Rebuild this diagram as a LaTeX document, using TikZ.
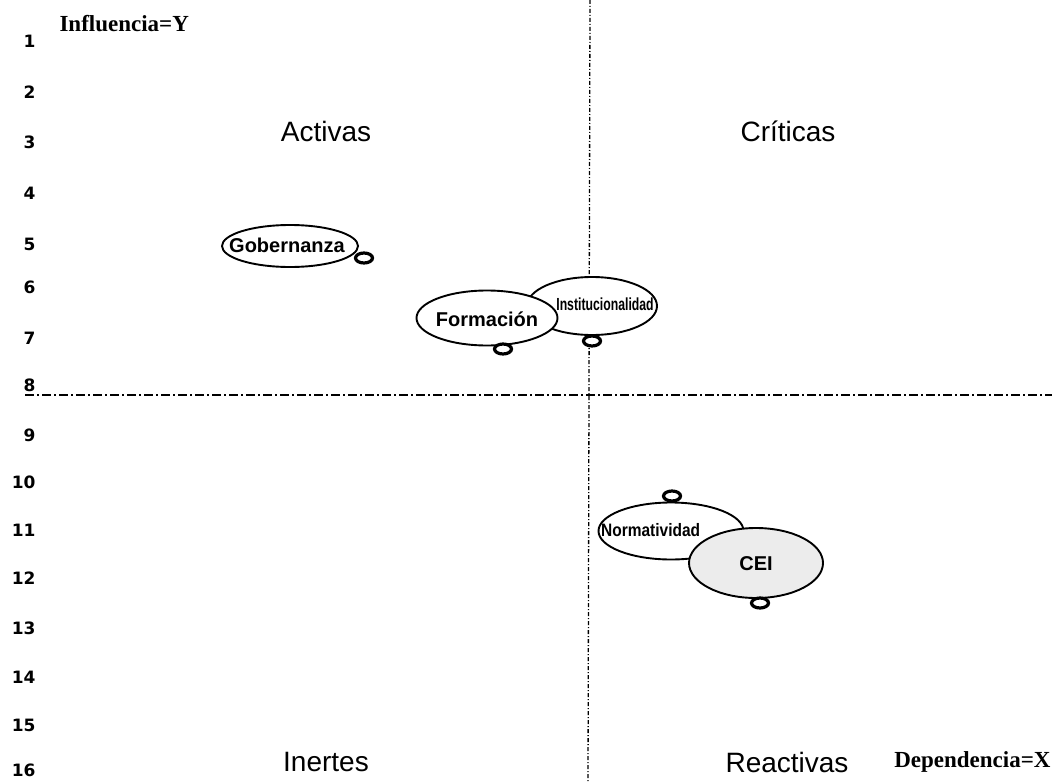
\documentclass[tikz,border=0pt]{standalone}
\usepackage{fontspec}
\setmainfont{Liberation Sans}
\newfontfamily\numfont{DejaVu Sans}
\newfontfamily\serifb{Liberation Serif}
\usetikzlibrary{shapes.geometric}
\begin{document}
\begin{tikzpicture}[x=1pt,y=-1pt,
  bubble/.style={ellipse,draw,line width=1.9pt,fill=white,inner sep=0pt},
  btext/.style={font=\fontsize{20}{20}\selectfont\bfseries,inner sep=0pt},
  knob/.style={ellipse,draw,line width=3.2pt,fill=white,minimum width=17pt,minimum height=10pt,inner sep=0pt},
  num/.style={anchor=east,font=\numfont\bfseries\fontsize{17}{17}\selectfont},
  quad/.style={font=\fontsize{28}{28}\selectfont},
  axistitle/.style={font=\serifb\bfseries\fontsize{23}{23}\selectfont},
  vline/.style={line width=1.3pt,dash pattern=on 4pt off 2pt on 1pt off 2pt},
  hline/.style={line width=1.6pt,dash pattern=on 9pt off 3pt on 2pt off 3pt},
]
\useasboundingbox (0,0) rectangle (1056,781);
% axes
\coordinate (vt) at (590,0);
\coordinate (vb) at (588,781);
\coordinate (hl) at (25,395);
\coordinate (hr) at (1052,395);
\draw[vline] (vt) -- (vb);
\draw[hline] (hl) -- (hr);
% scale numbers
\foreach \n/\y in {1/41,2/92,3/142,4/193,5/244,6/287,7/338,8/385,9/435,10/482,11/530,12/578,13/628,14/677,15/725,16/770}
  \node[num] (n\n) at (39,\y) {\n};
% titles
\node[axistitle,anchor=west] (infl) at (56,24) {Influencia=Y};
\node[axistitle,anchor=east] (dep) at (1054,762) {Dependencia=X};
\node[quad] (act) at (326,131) {Activas};
\node[quad] (cri) at (788,131) {Críticas};
\node[quad] (ine) at (326,762) {Inertes};
\node[quad] (rea) at (787,762) {Reactivas};
% bubbles
\node[bubble,minimum width=136pt,minimum height=42pt] (gob) at (290,246) {};
\node[btext] (tgob) at (287,245) {Gobernanza};
\node[knob] (kgob) at (364,258) {};
\node[bubble,minimum width=130pt,minimum height=58pt] (ins) at (592,306) {};
\node[btext,font=\fontsize{17.5}{17.5}\selectfont\bfseries] (tins) at (605,304) {\scalebox{0.7}[1]{Institucionalidad}};
\node[knob] (kins) at (592,341) {};
\node[bubble,minimum width=141pt,minimum height=55pt] (for) at (487,318) {};
\node[btext] (tfor) at (487,319) {Formación};
\node[knob] (kfor) at (503,349) {};
\node[bubble,minimum width=145pt,minimum height=57pt] (nor) at (671,531) {};
\node[btext,font=\fontsize{18}{18}\selectfont\bfseries,anchor=west] (tnor) at (601,530) {\scalebox{0.86}[1]{Normatividad}};
\node[knob] (knor) at (672,496) {};
\node[bubble,minimum width=134pt,minimum height=70pt,fill=gray!15] (cei) at (756,563) {};
\node[btext] (tcei) at (756,564) {CEI};
\node[knob] (kcei) at (760,603) {};
\end{tikzpicture}
\end{document}
